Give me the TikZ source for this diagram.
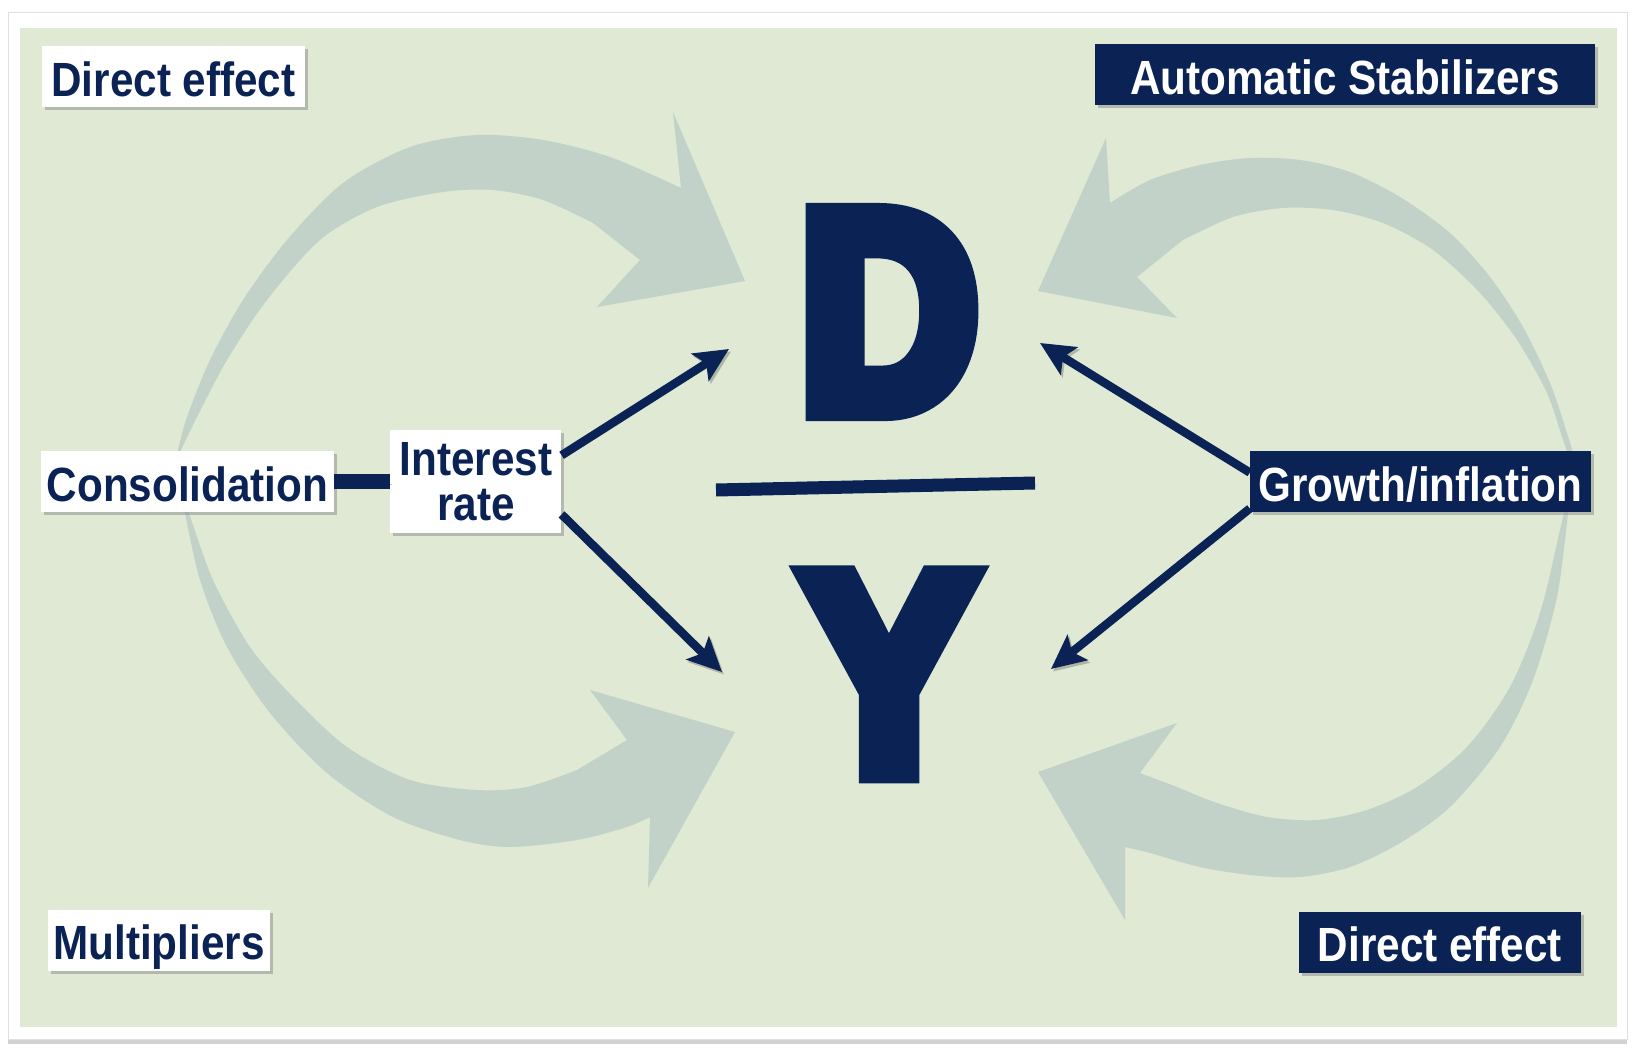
\documentclass[tikz,border=0pt]{standalone}
\usepackage{fontspec}
\setmainfont{Liberation Sans}
\newfontfamily\tagfont[FakeStretch=0.88]{Liberation Sans Bold}
\newfontfamily\dfont[FakeBold=8.5, FakeStretch=0.86]{Liberation Sans Bold}
\newfontfamily\yfont[FakeBold=8.5, FakeStretch=0.9]{Liberation Sans Bold}
\usepackage{xcolor}
\usepackage{tikz}
\usetikzlibrary{positioning}
\usetikzlibrary{shadows}
\usetikzlibrary{arrows.meta}
\definecolor{navy}{RGB}{10,34,84}
\definecolor{sage}{RGB}{223,233,211}
\definecolor{swooshgray}{RGB}{194,210,201}
\tikzstyle{tagbox} = [font=\tagfont\fontsize{48}{45}\selectfont,
    inner xsep=0pt, inner ysep=0pt,
    drop shadow={shadow xshift=3pt, shadow yshift=-3pt, opacity=0.45}]
\tikzstyle{oneline} = [text height=50pt, text depth=11pt]
\tikzstyle{lightbox} = [tagbox, fill=white, text=navy]
\tikzstyle{darkbox} = [tagbox, fill=navy, text=white]
\tikzstyle{dletter} = [font=\dfont\fontsize{282}{282}\selectfont,
    text=navy, inner sep=0pt]
\tikzstyle{yletter} = [font=\yfont\fontsize{282}{282}\selectfont,
    text=navy, inner sep=0pt]
\tikzstyle{swoosh} = [fill=swooshgray]
\tikzstyle{softshadow} = [preaction={draw=black, opacity=0.22,
    transform canvas={xshift=2pt, yshift=-2.5pt}}]
\tikzstyle{edge} = [draw=navy, line width=15pt, softshadow]
\tikzstyle{fracbar} = [draw=navy, line width=13pt, softshadow]
\tikzstyle{line} = [draw=navy, line width=8.5pt, softshadow,
    -{Stealth[length=34pt, width=32pt, inset=7pt]}]

\begin{document}
\begin{tikzpicture}[x=1pt, y=-1pt]
  \useasboundingbox (0,0) rectangle (1633,1051);
  % Card and panel
  \fill[white] (0,0) rectangle (1633,1051);
  \draw[gray!25, fill=white,
    drop shadow={shadow xshift=0pt, shadow yshift=-5pt, opacity=0.35}]
    (8,12) rectangle (1627,1039);
  \fill[sage] (20,28) rectangle (1617,1027);

  % Feedback loops behind everything
  \fill[swoosh] (177,470)
    -- plot[smooth] coordinates {(178,450) (187,417) (210,360) (243,300)
       (287,240) (343,183) (410,147) (477,135) (543,140) (610,157) (681,188)}
    -- (673,112) -- (745,281) -- (597,307) -- (640,260)
    -- plot[smooth] coordinates {(593,223) (543,200) (493,190) (443,192)
       (377,207) (320,240) (267,300) (227,360) (197,417) (181,450)}
    -- cycle;
  \fill[swoosh] (184,495)
    -- plot[smooth] coordinates {(185,513) (200,580) (227,647) (270,713)
       (327,773) (393,817) (460,840) (510,847) (577,840) (627,827) (650,817)}
    -- (648,888) -- (735,732) -- (590,690) -- (627,740)
    -- plot[smooth] coordinates {(577,770) (527,787) (477,790) (410,780)
       (347,747) (293,697) (250,647) (213,580) (189,513)}
    -- cycle;
  \fill[swoosh] (1572,470)
    -- plot[smooth] coordinates {(1573,453) (1567,433) (1550,383) (1523,327)
       (1490,277) (1450,233) (1400,197) (1350,172) (1300,160) (1250,158)
       (1200,165) (1150,180) (1110,203)}
    -- (1106,138) -- (1038,291) -- (1177,318) -- (1137,277)
    -- plot[smooth] coordinates {(1183,240) (1233,217) (1283,208) (1333,210)
       (1383,223) (1433,250) (1480,293) (1517,340) (1547,393) (1563,440)
       (1568,453)}
    -- cycle;
  \fill[swoosh] (1567,500)
    -- plot[smooth] coordinates {(1568,513) (1557,597) (1533,680) (1500,747)
       (1450,807) (1400,843) (1350,867) (1300,877) (1250,875) (1200,867)
       (1150,853) (1125,847)}
    -- (1125,920) -- (1038,772) -- (1177,723) -- (1140,773)
    -- plot[smooth] coordinates {(1177,787) (1217,803) (1267,817) (1317,820)
       (1367,810) (1417,787) (1467,747) (1510,687) (1540,613) (1560,530)
       (1564,513)}
    -- cycle;

  % Place nodes
  \node [lightbox, oneline, minimum width=263pt] (direct) at (173.5,77) {Direct effect};
  \node [darkbox, oneline, minimum width=500pt] (auto) at (1345,75) {Automatic Stabilizers};
  \node [lightbox, oneline, minimum width=293pt] (cons) at (187.5,481.5) {Consolidation};
  \node [lightbox, align=center, minimum width=171pt, minimum height=103pt,
         right=56pt of cons] (rate) {Interest\\rate};
  \node [darkbox, oneline, minimum width=341pt] (growth) at (1420.5,481.5) {Growth/inflation};
  \node [lightbox, oneline, minimum width=222pt] (mult) at (159,940) {Multipliers};
  \node [darkbox, oneline, minimum width=282pt] (feedback) at (1440,942) {Direct effect};

  % Debt over output
  \node [dletter] (debt) at (889,312) {D};
  \node [yletter, below=168pt of debt] (output) {Y};
  \draw [fracbar] (716,490) -- (1035,483);

  % Arrow tips next to the ratio
  \coordinate (dl) at (729,349);
  \coordinate (yl) at (722,672);
  \coordinate (dr) at (1040,343);
  \coordinate (yr) at (1051,669);

  % Draw edges
  \path [edge] (cons) -- (rate);
  \path [line] (rate.17) -- (dl);
  \path [line] (rate.-21) -- (yl);
  \path [line] (growth.177) -- (dr);
  \path [line] (growth.189) -- (yr);
\end{tikzpicture}
\end{document}
